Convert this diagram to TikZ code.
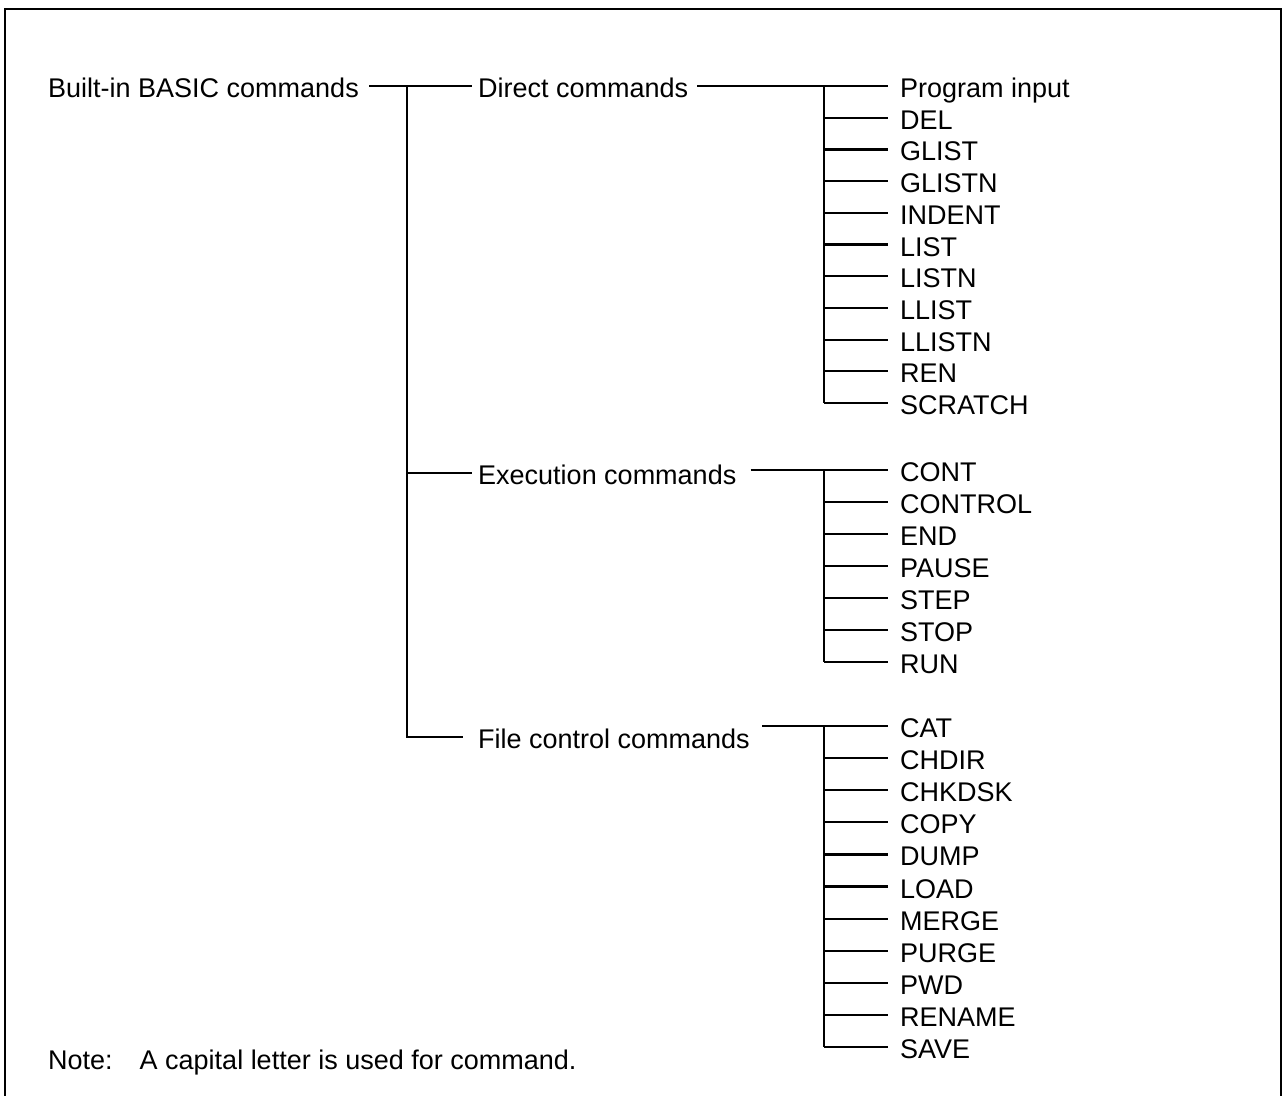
\documentclass[tikz,border=0pt]{standalone}
\usepackage{fontspec}
\setmainfont{Liberation Sans}
\begin{document}
\begin{tikzpicture}[x=1pt,y=-1pt,
  lbl/.style={anchor=west, inner ysep=0pt, inner xsep=6pt, text height=23pt, text depth=0pt,
              font=\fontsize{27}{32}\selectfont},
  leaf/.style={lbl, inner xsep=12pt},
  ln/.style={line width=2.2pt},
  frame/.style={line width=2.5pt}]
\useasboundingbox (0,0) rectangle (1285,1095);
% frame
\coordinate (fbl) at (5,1110);
\coordinate (ftl) at (5,9);
\coordinate (ftr) at (1281,9);
\coordinate (fbr) at (1281,1110);
\draw[frame] (fbl) -- (ftl) -- (ftr) -- (fbr);

% root and categories
\node[lbl, inner xsep=10pt] (root) at (38,86) {Built-in BASIC commands};
\node[lbl] (dir) at (472,86) {Direct commands};
\node[lbl] (exe) at (472,473) {Execution commands};
\node[lbl] (fil) at (472,737) {File control commands};
\coordinate (tr) at (407,86);
\coordinate (trb) at (fil.west -| tr);

% leaves
\foreach \t [count=\i from 0] in {Program input,DEL,GLIST,GLISTN,INDENT,LIST,LISTN,LLIST,LLISTN,REN,SCRATCH}
  \node[leaf] (d\i) at (888,86+31.7*\i) {\t};
\foreach \t [count=\i from 0] in {CONT,CONTROL,END,PAUSE,STEP,STOP,RUN}
  \node[leaf] (e\i) at (888,470+32*\i) {\t};
\foreach \t [count=\i from 0] in {CAT,CHDIR,CHKDSK,COPY,DUMP,LOAD,MERGE,PURGE,PWD,RENAME,SAVE}
  \node[leaf] (f\i) at (888,726+32.1*\i) {\t};

\coordinate (jd) at (824,86);
\coordinate (je) at (824,470);
\coordinate (jf) at (824,726);

% main trunk
\draw[ln] (root.east) -- (dir.west);
\draw[ln] (tr) -- (trb) -- ([xshift=-9pt]fil.west);
\draw[ln] (tr |- exe.west) -- (exe.west);

% category to leaves
\draw[ln] ([xshift=3pt]dir.east) -- (d0.west);
\draw[ln] ([xshift=8pt]exe.east |- e0.west) -- (e0.west);
\draw[ln] ([xshift=6pt]fil.east |- f0.west) -- (f0.west);

% sub trunks
\draw[ln] (jd) -- (jd |- d10.west);
\draw[ln] (je) -- (je |- e6.west);
\draw[ln] (jf) -- (jf |- f10.west);
\foreach \i in {1,...,10} \draw[ln] (jd |- d\i.west) -- (d\i.west);
\foreach \i in {1,...,6} \draw[ln] (je |- e\i.west) -- (e\i.west);
\foreach \i in {1,...,10} \draw[ln] (jf |- f\i.west) -- (f\i.west);

% note
\node[lbl] (note) at (42,1058) {Note:\hspace{27pt}A capital letter is used for command.};
\end{tikzpicture}
\end{document}
